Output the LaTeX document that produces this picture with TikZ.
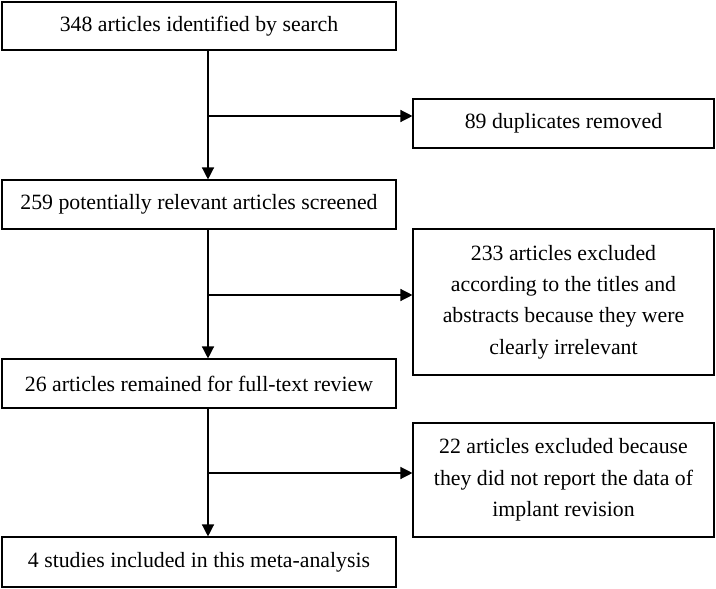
\documentclass[tikz,border=0pt]{standalone}
\usepackage{fontspec}
\setmainfont{Liberation Serif}
\usetikzlibrary{arrows.meta}
\begin{document}
\begin{tikzpicture}[x=1pt,y=-1pt,
  box/.style={draw=black,line width=1.1pt,inner sep=0pt,align=center,
    font=\fontsize{21.8}{31.3}\selectfont},
  lbox/.style={box,minimum width=394pt},
  rbox/.style={box,minimum width=301pt},
  arr/.style={line width=1.3pt,-{Triangle[length=12pt,width=12pt]}}]
\useasboundingbox (0,0) rectangle (716,589);
\coordinate (spine) at (208,0);
\node[lbox,minimum height=48pt] (b1) at (199,26) {348 articles identified by search};
\node[rbox,minimum height=49pt] (r1) at (563.5,123.5) {89 duplicates removed};
\node[lbox,minimum height=49pt] (b2) at (199,204.5) {259 potentially relevant articles screened};
\node[rbox,minimum height=146pt] (r2) at (563.5,302) {233 articles excluded\\according to the titles and\\abstracts because they were\\clearly irrelevant};
\node[lbox,minimum height=49pt] (b3) at (199,383.5) {26 articles remained for full-text review};
\node[rbox,minimum height=114pt] (r3) at (563.5,480) {22 articles excluded because\\they did not report the data of\\implant revision};
\node[lbox,minimum height=50pt] (b4) at (199,562) {4 studies included in this meta-analysis};
\draw[arr] (b1.south -| spine) -- (b2.north -| spine);
\draw[arr] (b2.south -| spine) -- (b3.north -| spine);
\draw[arr] (b3.south -| spine) -- (b4.north -| spine);
\draw[arr] ([yshift=7.5pt]r1.west -| spine) -- ([yshift=7.5pt]r1.west);
\draw[arr] ([yshift=7pt]r2.west -| spine) -- ([yshift=7pt]r2.west);
\draw[arr] ([yshift=7pt]r3.west -| spine) -- ([yshift=7pt]r3.west);
\end{tikzpicture}
\end{document}
